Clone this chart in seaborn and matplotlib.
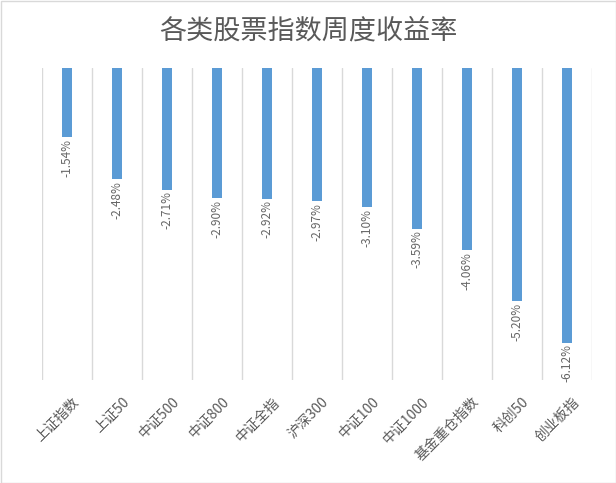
import matplotlib
matplotlib.use("Agg")
import matplotlib.pyplot as plt
import matplotlib.transforms as mtransforms
from matplotlib.patches import Rectangle
import seaborn as sns
import pandas as pd
import numpy as np

categories = ["上证指数", "上证50", "中证500", "中证800", "中证全指", "沪深300",
              "中证100", "中证1000", "基金重仓指数", "科创50", "创业板指"]
values = [-1.54, -2.48, -2.71, -2.90, -2.92, -2.97, -3.10, -3.59, -4.06, -5.20, -6.12]
title = "各类股票指数周度收益率"

sns.set_theme(style="white")
plt.rcParams['font.family'] = ['Noto Sans CJK SC', 'DejaVu Sans']

df = pd.DataFrame({"cat": categories, "val": values})

fig = plt.figure(figsize=(6.16, 4.83), dpi=100)
ax = fig.add_axes([42/616, 1-380/483, 550/616, 312/483])

sns.barplot(data=df, x="cat", y="val", color="#5B9BD5", width=0.2, ax=ax,
            saturation=1, edgecolor="none")

ax.set_ylim(-6.95, 0)
ax.set_xlim(-0.5, len(categories) - 0.5)
ax.set_yticks([])
ax.set_xlabel("")
ax.set_ylabel("")
for s in ax.spines.values():
    s.set_visible(False)

ax.set_xticks(np.arange(-0.5, len(categories)), minor=True)
ax.grid(which="minor", axis="x", color="#d9d9d9", linewidth=1)
ax.tick_params(axis="x", which="both", length=0, pad=2)
ax.tick_params(axis="x", which="major", colors="#595959")

offset = mtransforms.ScaledTranslation(5/100, -12/100, fig.dpi_scale_trans)
ax.set_xticks(range(len(categories)))
ax.set_xticklabels(categories, rotation=45, ha="right", rotation_mode="anchor",
                   fontsize=10, color="#595959")
for lab in ax.get_xticklabels():
    lab.set_transform(lab.get_transform() + offset)

for i, v in enumerate(values):
    ax.annotate(f"{v:.2f}%", xy=(i, v), xytext=(0, -1), textcoords="offset points",
                rotation=90, ha="center", va="top", fontsize=8.5, color="#666666")

fig.text(0.5, 1-31/483, title, ha="center", va="center", fontsize=19.5, color="#595959")

fig.patches.append(Rectangle((0.5/616, 0.5/483), 1-1/616, 1-1/483, transform=fig.transFigure,
                             fill=False, edgecolor="#d9d9d9", linewidth=1))

fig.savefig("out.png", dpi=100)
